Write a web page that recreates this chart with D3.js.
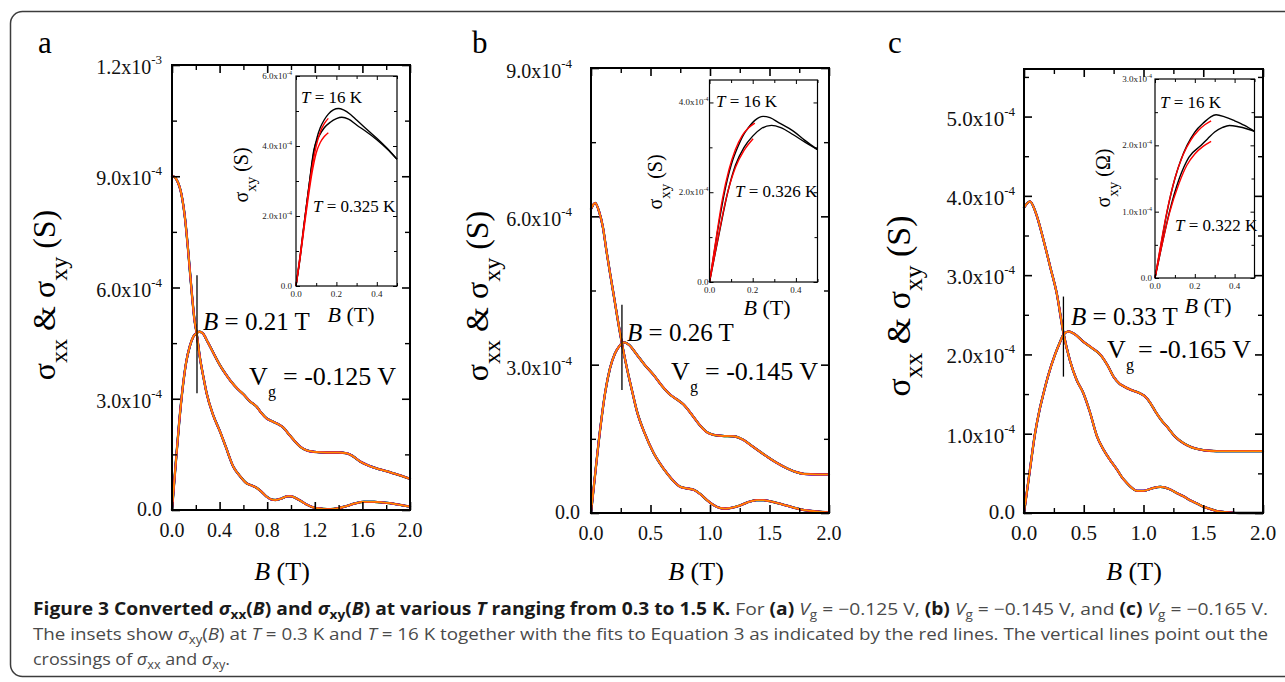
<!DOCTYPE html>
<html><head><meta charset="utf-8">
<script src="https://cdn.jsdelivr.net/npm/d3@7"></script>
<style>html,body{margin:0;padding:0;background:#fff;}svg{display:block;}</style>
</head><body>
<svg id="fig" width="1285" height="682"></svg>
<script>
// ===== DATA (conductivity in units of 1e-4 S, B in tesla) =====
// Panel a  (Vg = -0.125 V)
const sxxA = [[0,9.0],[0.02,8.98],[0.04,8.9],[0.08,8.5],[0.11,7.85],[0.137,6.95],[0.165,5.9],[0.19,5.1],[0.207,4.77],[0.235,4.1],[0.263,3.6],[0.291,3.15],[0.347,2.55],[0.403,2.12],[0.45,1.72],[0.515,1.17],[0.57,0.92],[0.627,0.72],[0.67,0.66],[0.71,0.6],[0.75,0.5],[0.795,0.36],[0.84,0.28],[0.87,0.27],[0.92,0.31],[0.97,0.37],[1.0,0.37],[1.04,0.32],[1.08,0.25],[1.13,0.15],[1.2,0.06],[1.27,0.03],[1.33,0.02],[1.4,0.05],[1.47,0.11],[1.54,0.18],[1.61,0.22],[1.7,0.22],[1.78,0.2],[1.86,0.17],[1.93,0.13],[2.0,0.09]];
const sxyA = [[0,0],[0.03,1.2],[0.06,2.35],[0.09,3.3],[0.12,4.0],[0.15,4.42],[0.18,4.68],[0.207,4.77],[0.23,4.81],[0.26,4.76],[0.3,4.53],[0.35,4.22],[0.4,3.92],[0.45,3.67],[0.5,3.45],[0.55,3.27],[0.6,3.12],[0.655,2.93],[0.71,2.79],[0.75,2.62],[0.795,2.47],[0.85,2.38],[0.9,2.3],[0.936,2.22],[0.98,2.05],[1.02,1.9],[1.076,1.71],[1.13,1.61],[1.19,1.57],[1.3,1.55],[1.4,1.55],[1.47,1.53],[1.52,1.45],[1.58,1.31],[1.65,1.2],[1.72,1.12],[1.8,1.05],[1.86,0.99],[1.93,0.92],[2.0,0.84]];
// Panel b  (Vg = -0.145 V)
const sxxB = [[0,6.15],[0.035,6.27],[0.07,6.08],[0.1,5.78],[0.13,5.3],[0.162,4.82],[0.19,4.42],[0.22,3.98],[0.26,3.43],[0.3,2.95],[0.35,2.42],[0.387,2.05],[0.45,1.62],[0.527,1.21],[0.58,1.0],[0.64,0.8],[0.7,0.63],[0.75,0.53],[0.8,0.5],[0.863,0.47],[0.92,0.38],[0.975,0.26],[1.03,0.16],[1.087,0.1],[1.13,0.09],[1.17,0.1],[1.25,0.15],[1.32,0.22],[1.39,0.26],[1.45,0.26],[1.5,0.24],[1.6,0.18],[1.7,0.11],[1.79,0.06],[1.9,0.03],[2.0,0.01]];
const sxyB = [[0,0],[0.04,0.9],[0.08,1.75],[0.12,2.45],[0.16,2.93],[0.2,3.22],[0.24,3.38],[0.26,3.43],[0.28,3.45],[0.32,3.4],[0.38,3.22],[0.45,3.0],[0.527,2.79],[0.6,2.56],[0.667,2.39],[0.72,2.3],[0.78,2.19],[0.85,1.98],[0.92,1.76],[0.97,1.64],[1.03,1.58],[1.1,1.56],[1.2,1.55],[1.28,1.48],[1.35,1.36],[1.42,1.24],[1.48,1.14],[1.55,1.03],[1.65,0.9],[1.72,0.83],[1.79,0.79],[1.9,0.78],[2.0,0.78]];
// Panel c  (Vg = -0.165 V)
const sxxC = [[0,3.85],[0.05,3.93],[0.1,3.78],[0.162,3.45],[0.22,3.1],[0.274,2.77],[0.33,2.27],[0.385,1.92],[0.44,1.68],[0.497,1.51],[0.55,1.28],[0.61,0.97],[0.665,0.8],[0.72,0.67],[0.777,0.55],[0.82,0.45],[0.86,0.38],[0.9,0.32],[0.944,0.28],[1.0,0.28],[1.07,0.31],[1.14,0.33],[1.22,0.3],[1.28,0.25],[1.335,0.21],[1.39,0.16],[1.447,0.12],[1.5,0.08],[1.56,0.05],[1.63,0.02],[1.7,0.01],[1.8,0],[2.0,0]];
const sxyC = [[0,0],[0.05,0.55],[0.092,1.0],[0.13,1.3],[0.162,1.5],[0.2,1.72],[0.26,2.0],[0.3,2.15],[0.33,2.25],[0.371,2.29],[0.42,2.26],[0.497,2.16],[0.57,2.08],[0.637,2.0],[0.7,1.86],[0.749,1.72],[0.8,1.63],[0.832,1.6],[0.9,1.55],[0.97,1.51],[1.02,1.46],[1.056,1.39],[1.1,1.28],[1.15,1.17],[1.196,1.09],[1.26,0.97],[1.335,0.88],[1.4,0.83],[1.475,0.8],[1.55,0.785],[1.61,0.78],[1.8,0.78],[2.0,0.78]];

// Insets: sigma_xy at T = 16 K (hot), low T (cold) and Eq. 3 fits
const insetHotA  = [[0,0],[0.02,0.84],[0.036,1.6],[0.053,2.36],[0.07,3.1],[0.086,3.75],[0.103,4.22],[0.12,4.52],[0.14,4.75],[0.16,4.91],[0.185,5.03],[0.21,5.07],[0.235,5.03],[0.27,4.9],[0.3,4.74],[0.35,4.48],[0.4,4.22],[0.45,3.94],[0.5,3.62]];
const insetColdA = [[0,0],[0.02,0.78],[0.045,1.98],[0.065,2.9],[0.089,3.9],[0.116,4.3],[0.14,4.52],[0.17,4.68],[0.2,4.78],[0.227,4.82],[0.26,4.77],[0.3,4.6],[0.35,4.4],[0.4,4.18],[0.45,3.92],[0.5,3.62]];
const insetFitHotA  = [[0,0],[0.02,0.86],[0.04,1.75],[0.06,2.62],[0.08,3.4],[0.1,4.0],[0.12,4.4],[0.14,4.64],[0.16,4.79]];
const insetFitColdA = [[0,0],[0.02,0.78],[0.04,1.65],[0.06,2.5],[0.08,3.25],[0.1,3.8],[0.12,4.1],[0.14,4.27],[0.16,4.38]];
const insetHotB  = [[0,0],[0.034,1.04],[0.07,2.01],[0.1,2.6],[0.132,3.02],[0.16,3.3],[0.179,3.43],[0.21,3.6],[0.248,3.69],[0.28,3.66],[0.32,3.55],[0.388,3.36],[0.44,3.16],[0.5,2.95]];
const insetColdB = [[0,0],[0.043,1.04],[0.085,2.01],[0.12,2.6],[0.16,3.0],[0.2,3.25],[0.24,3.42],[0.287,3.49],[0.33,3.44],[0.388,3.28],[0.44,3.12],[0.5,2.95]];
const insetFitHotB  = [[0,0],[0.03,0.95],[0.06,1.85],[0.09,2.5],[0.12,2.95],[0.15,3.25],[0.18,3.43],[0.21,3.54]];
const insetFitColdB = [[0,0],[0.04,1.0],[0.08,1.92],[0.12,2.55],[0.16,2.93],[0.202,3.19]];
const insetHotC  = [[0,0],[0.03,0.5],[0.06,0.99],[0.1,1.5],[0.13,1.78],[0.161,2.0],[0.2,2.2],[0.248,2.35],[0.28,2.43],[0.307,2.46],[0.35,2.43],[0.4,2.37],[0.45,2.3],[0.5,2.21]];
const insetColdC = [[0,0],[0.035,0.5],[0.072,0.99],[0.122,1.5],[0.17,1.82],[0.232,2.0],[0.265,2.1],[0.3,2.2],[0.34,2.27],[0.374,2.3],[0.42,2.28],[0.46,2.25],[0.5,2.21]];
const insetFitHotC  = [[0,0],[0.03,0.52],[0.06,1.0],[0.1,1.5],[0.14,1.85],[0.18,2.08],[0.22,2.23],[0.25,2.31],[0.282,2.37]];
const insetFitColdC = [[0,0],[0.035,0.5],[0.072,0.97],[0.12,1.42],[0.16,1.7],[0.2,1.87],[0.24,1.98],[0.282,2.06]];

// Crossing field and vertical marker extent (1e-4 S)
const crossB = [0.21, 0.26, 0.33];
const crossSpan = [[3.15, 6.33], [2.49, 4.21], [1.72, 2.73]];

// Tick values and labels
const xTicksA = [0,0.4,0.8,1.2,1.6,2.0];  const xLabelsA = ["0.0","0.4","0.8","1.2","1.6","2.0"];
const xMinorA = [0.2,0.6,1.0,1.4,1.8];
const xTicksBC = [0,0.5,1.0,1.5,2.0];     const xLabelsBC = ["0.0","0.5","1.0","1.5","2.0"];
const xMinorBC = [0.25,0.75,1.25,1.75];
const yTicksA = [0,3,6,9,12];  const yLabelsA = [["0.0",""],["3.0","-4"],["6.0","-4"],["9.0","-4"],["1.2","-3"]];
const yMinorA = [1.5,4.5,7.5,10.5];
const yTicksB = [0,3,6,9];     const yLabelsB = [["0.0",""],["3.0","-4"],["6.0","-4"],["9.0","-4"]];
const yMinorB = [1.5,4.5,7.5];
const yTicksC = [0,1,2,3,4,5]; const yLabelsC = [["0.0",""],["1.0","-4"],["2.0","-4"],["3.0","-4"],["4.0","-4"],["5.0","-4"]];
const yMinorC = [0.5,1.5,2.5,3.5,4.5,5.5];
const insetXTicks = [0,0.2,0.4]; const insetXLabels = ["0.0","0.2","0.4"]; const insetXMinor = [0.1,0.3,0.5];
const insetYTicksA = [0,2,4,6]; const insetYLabelsA = [["0.0",""],["2.0x10","-4"],["4.0x10","-4"],["6.0x10","-4"]]; const insetYMinorA = [1,3,5];
const insetYTicksB = [0,2,4];   const insetYLabelsB = [["0.0",""],["2.0x10","-4"],["4.0x10","-4"]]; const insetYMinorB = [1,3];
const insetYTicksC = [0,1,2,3]; const insetYLabelsC = [["0.0",""],["1.0x10","-4"],["2.0x10","-4"],["3.0x10","-4"]]; const insetYMinorC = [0.5,1.5,2.5];

// Temperature curves colours (bottom to top layer)
const tempColors = ["#000000","#00a000","#0000ff","#e000e0","#ff2000","#ff8c00"];
const tempWidths = [2.3,2.1,2.0,1.9,1.8,1.5];

// ===== DRAWING =====
const SERIF = "'Liberation Serif','Times New Roman',serif";
const SANS = "'Open Sans','Noto Sans',sans-serif";
const svg = d3.select("#fig");
svg.append("rect").attr("width",1285).attr("height",682).attr("fill","#fff");
svg.append("rect").attr("x",10.5).attr("y",11.5).attr("width",1300).attr("height",665)
  .attr("rx",12).attr("fill","none").attr("stroke","#3c3c3c").attr("stroke-width",1.5);

function tickAxis(g, scale, orient, pos, values, size, sw){
  const gen = {left:d3.axisLeft, right:d3.axisRight, top:d3.axisTop, bottom:d3.axisBottom}[orient];
  const a = g.append("g")
    .attr("transform", (orient==="left"||orient==="right") ? `translate(${pos},0)` : `translate(0,${pos})`)
    .call(gen(scale).tickValues(values).tickSize(-size).tickFormat(""));
  a.select(".domain").remove();
  a.selectAll("line").attr("stroke","#000").attr("stroke-width",sw);
}

function drawCurves(g, x, y, series){
  const line = d3.line().x(d=>x(d[0])).y(d=>y(d[1])).curve(d3.curveMonotoneX);
  const cg = g.append("g").attr("fill","none").attr("stroke-linejoin","round").attr("stroke-linecap","round");
  tempColors.forEach((c,i)=>{
    series.forEach(s=>{
      cg.append("path").attr("d",line(s)).attr("stroke",c).attr("stroke-width",tempWidths[i]);
    });
  });
}

function drawMain(P){
  const g = svg.append("g");
  const x = d3.scaleLinear().domain([0,2]).range([P.left,P.right]);
  const y = d3.scaleLinear().domain([0,P.yMax]).range([P.bottom,P.top]);
  drawCurves(g, x, y, [P.sxx, P.sxy]);
  g.append("rect").attr("x",P.left).attr("y",P.top).attr("width",P.right-P.left).attr("height",P.bottom-P.top)
    .attr("fill","none").attr("stroke","#000").attr("stroke-width",2);
  tickAxis(g,y,"left",P.left,P.yTicks,8,1.6);   tickAxis(g,y,"left",P.left,P.yMinor,5,1.4);
  tickAxis(g,y,"right",P.right,P.yTicks,8,1.6); tickAxis(g,y,"right",P.right,P.yMinor,5,1.4);
  tickAxis(g,x,"bottom",P.bottom,P.xTicks,8,1.6); tickAxis(g,x,"bottom",P.bottom,P.xMinor,5,1.4);
  tickAxis(g,x,"top",P.top,P.xTicks,8,1.6); tickAxis(g,x,"top",P.top,P.xMinor,5,1.4);
  P.yLabels.forEach((lab,i)=>{
    const v = P.yTicks[i];
    const t = g.append("text").attr("font-family",SERIF).attr("font-size",P.tickFont).attr("fill","#111")
      .attr("text-anchor","end")
      .attr("x", P.left - (lab[1] ? P.yGap : P.zeroGap))
      .attr("y", y(v) + (lab[1] ? P.expOff : 6));
    t.append("tspan").text(lab[1] ? lab[0]+"x10" : lab[0]);
    if(lab[1]) t.append("tspan").attr("dy",-10).attr("font-size",13).text(lab[1]);
  });
  P.xLabels.forEach((lab,i)=>{
    g.append("text").attr("font-family",SERIF).attr("font-size",P.tickFont).attr("fill","#111")
      .attr("text-anchor","middle").attr("x",x(P.xTicks[i])).attr("y",P.bottom+27).text(lab);
  });
  const xt = g.append("text").attr("font-family",SERIF).attr("font-size",26).attr("text-anchor","middle")
    .attr("x",P.xTitleX).attr("y",580);
  xt.append("tspan").attr("font-style","italic").text("B");
  xt.append("tspan").text(" (T)");
  const yt = g.append("text").attr("font-family",SERIF).attr("font-size",P.yTitleSize).attr("text-anchor","middle")
    .attr("transform",`translate(${P.yTitleX},${P.yTitleY}) rotate(-90)`);
  yt.append("tspan").text("σ");
  yt.append("tspan").attr("font-size",P.yTitleSize*0.75).attr("dy",12).text("xx");
  yt.append("tspan").attr("dy",-12).text(" & σ");
  yt.append("tspan").attr("font-size",P.yTitleSize*0.75).attr("dy",12).text("xy");
  yt.append("tspan").attr("dy",-12).text(" (S)");
  g.append("text").attr("font-family",SERIF).attr("font-size",31).attr("x",P.letterX).attr("y",53).text(P.letter);
  g.append("line").attr("x1",x(P.cross)).attr("x2",x(P.cross)).attr("y1",y(P.span[0])).attr("y2",y(P.span[1]))
    .attr("stroke","#000").attr("stroke-width",1.3);
  const bt = g.append("text").attr("font-family",SERIF).attr("font-size",25).attr("x",P.bLabel[0]).attr("y",P.bLabel[1]);
  bt.append("tspan").attr("font-style","italic").text("B");
  bt.append("tspan").text(" = " + P.cross.toFixed(2) + " T");
  g.append("text").attr("font-family",SERIF).attr("font-size",26).attr("x",P.vLabel[0]).attr("y",P.vLabel[1]).text("V");
  g.append("text").attr("font-family",SERIF).attr("font-size",16).attr("x",P.vLabel[0]+19).attr("y",P.vLabel[1]+12).text("g");
  g.append("text").attr("font-family",SERIF).attr("font-size",26).attr("x",P.vLabel[2]).attr("y",P.vLabel[1]).text(P.vText);
}

function drawInset(I){
  const g = svg.append("g");
  const x = d3.scaleLinear().domain([0,0.5]).range([I.left,I.right]);
  const y = d3.scaleLinear().domain([0,I.yMax]).range([I.bottom,I.top]);
  g.append("rect").attr("x",I.left).attr("y",I.top).attr("width",I.right-I.left).attr("height",I.bottom-I.top).attr("fill","#fff");
  const line = d3.line().x(d=>x(d[0])).y(d=>y(d[1])).curve(d3.curveMonotoneX);
  [I.hot,I.cold].forEach(s=>g.append("path").attr("d",line(s)).attr("fill","none").attr("stroke","#000").attr("stroke-width",1.4));
  [I.fitHot,I.fitCold].forEach(s=>g.append("path").attr("d",line(s)).attr("fill","none").attr("stroke","#ff0000").attr("stroke-width",1.4));
  g.append("rect").attr("x",I.left).attr("y",I.top).attr("width",I.right-I.left).attr("height",I.bottom-I.top)
    .attr("fill","none").attr("stroke","#000").attr("stroke-width",1.2);
  tickAxis(g,y,"left",I.left,I.yTicks,4,1); tickAxis(g,y,"left",I.left,I.yMinor,3,1);
  tickAxis(g,y,"right",I.right,I.yTicks,4,1); tickAxis(g,y,"right",I.right,I.yMinor,3,1);
  tickAxis(g,x,"bottom",I.bottom,insetXTicks,4,1); tickAxis(g,x,"bottom",I.bottom,insetXMinor,3,1);
  tickAxis(g,x,"top",I.top,insetXTicks,4,1); tickAxis(g,x,"top",I.top,insetXMinor,3,1);
  I.yLabels.forEach((lab,i)=>{
    const t = g.append("text").attr("font-family",SERIF).attr("font-size",9).attr("fill","#222")
      .attr("text-anchor","end").attr("x",I.left-I.yGap).attr("y",y(I.yTicks[i])+3);
    t.append("tspan").text(lab[0]);
    if(lab[1]) t.append("tspan").attr("dy",-4).attr("font-size",6).text(lab[1]);
  });
  insetXLabels.forEach((lab,i)=>{
    g.append("text").attr("font-family",SERIF).attr("font-size",9).attr("fill","#222").attr("text-anchor","middle")
      .attr("x",x(insetXTicks[i])).attr("y",I.bottom+11).text(lab);
  });
  const xt = g.append("text").attr("font-family",SERIF).attr("font-size",22).attr("text-anchor","middle")
    .attr("x",I.xTitle[0]).attr("y",I.xTitle[1]);
  xt.append("tspan").attr("font-style","italic").text("B");
  xt.append("tspan").text(" (T)");
  const yt = g.append("text").attr("font-family",SERIF).attr("font-size",20).attr("text-anchor","middle")
    .attr("transform",`translate(${I.yTitle[0]},${I.yTitle[1]}) rotate(-90)`);
  yt.append("tspan").text("σ");
  yt.append("tspan").attr("font-size",15).attr("dy",8).text("xy");
  yt.append("tspan").attr("dy",-8).text(" (" + I.unit + ")");
  I.tLabels.forEach(tl=>{
    const t = g.append("text").attr("font-family",SERIF).attr("font-size",17).attr("x",tl[0]).attr("y",tl[1]);
    t.append("tspan").attr("font-style","italic").text("T");
    t.append("tspan").text(" = " + tl[2] + " K");
  });
}

drawMain({left:172,right:410,top:65,bottom:510,yMax:12,sxx:sxxA,sxy:sxyA,
  yTicks:yTicksA,yLabels:yLabelsA,yMinor:yMinorA,xTicks:xTicksA,xLabels:xLabelsA,xMinor:xMinorA,
  tickFont:20,yGap:10,zeroGap:10,expOff:9,xTitleX:282,yTitleX:55,yTitleY:295,yTitleSize:32,
  letter:"a",letterX:38,cross:crossB[0],span:crossSpan[0],bLabel:[203,330],vLabel:[249,385,283],vText:"= -0.125 V"});
drawMain({left:591,right:829,top:68,bottom:513,yMax:9,sxx:sxxB,sxy:sxyB,
  yTicks:yTicksB,yLabels:yLabelsB,yMinor:yMinorB,xTicks:xTicksBC,xLabels:xLabelsBC,xMinor:xMinorBC,
  tickFont:20,yGap:19,zeroGap:11,expOff:10,xTitleX:696,yTitleX:488,yTitleY:296,yTitleSize:32,
  letter:"b",letterX:472,cross:crossB[1],span:crossSpan[1],bLabel:[627,341],vLabel:[671,380,705],vText:"= -0.145 V"});
drawMain({left:1024,right:1263,top:69,bottom:513,yMax:5.6,sxx:sxxC,sxy:sxyC,
  yTicks:yTicksC,yLabels:yLabelsC,yMinor:yMinorC,xTicks:xTicksBC,xLabels:xLabelsBC,xMinor:xMinorBC,
  tickFont:21,yGap:9,zeroGap:9,expOff:9,xTitleX:1134,yTitleX:910,yTitleY:306,yTitleSize:34,
  letter:"c",letterX:888,cross:crossB[2],span:crossSpan[2],bLabel:[1071,325],vLabel:[1107,358,1138],vText:"= -0.165 V"});

drawInset({left:296,right:397,top:76,bottom:286,yMax:6,hot:insetHotA,cold:insetColdA,fitHot:insetFitHotA,fitCold:insetFitColdA,
  yTicks:insetYTicksA,yLabels:insetYLabelsA,yMinor:insetYMinorA,yGap:4,xTitle:[351,322],yTitle:[248,175],unit:"S",
  tLabels:[[301,103,"16"],[313,212,"0.325"]]});
drawInset({left:709.5,right:817.5,top:80,bottom:282,yMax:4.5,hot:insetHotB,cold:insetColdB,fitHot:insetFitHotB,fitCold:insetFitColdB,
  yTicks:insetYTicksB,yLabels:insetYLabelsB,yMinor:insetYMinorB,yGap:1,xTitle:[767,315],yTitle:[662,182],unit:"S",
  tLabels:[[716,107,"16"],[735,197,"0.326"]]});
drawInset({left:1155,right:1254.5,top:79,bottom:278,yMax:3,hot:insetHotC,cold:insetColdC,fitHot:insetFitHotC,fitCold:insetFitColdC,
  yTicks:insetYTicksC,yLabels:insetYLabelsC,yMinor:insetYMinorC,yGap:3,xTitle:[1208,313],yTitle:[1110,178],unit:"Ω",
  tLabels:[[1160,108,"16"],[1175,231,"0.322"]]});

// ===== CAPTION =====
const DARK = "#1a1a1a", GREY = "#4a4a4a";
function capLine(y, width, parts){
  const t = svg.append("text").attr("font-family",SANS).attr("font-size",17).attr("x",33).attr("y",y)
    .attr("textLength",width).attr("lengthAdjust","spacingAndGlyphs");
  let shift = 0;
  parts.forEach(p=>{
    const s = t.append("tspan").text(p.t).attr("fill", p.b ? DARK : GREY).attr("font-weight", p.b ? 700 : 400);
    if(p.i) s.attr("font-style","italic");
    const want = p.sub ? 4 : 0;
    if(want!==shift){ s.attr("dy", want-shift); shift = want; }
    if(p.sub) s.attr("font-size",12);
  });
}
capLine(615, 1235, [
  {t:"Figure 3 Converted ",b:1},{t:"σ",b:1,i:1},{t:"xx",b:1,sub:1},{t:"(",b:1},{t:"B",b:1,i:1},{t:") and ",b:1},
  {t:"σ",b:1,i:1},{t:"xy",b:1,sub:1},{t:"(",b:1},{t:"B",b:1,i:1},{t:") at various ",b:1},{t:"T",b:1,i:1},
  {t:" ranging from 0.3 to 1.5 K.",b:1},{t:" For "},{t:"(a)",b:1},{t:" "},{t:"V",i:1},{t:"g",sub:1},{t:" = −0.125 V, "},
  {t:"(b)",b:1},{t:" "},{t:"V",i:1},{t:"g",sub:1},{t:" = −0.145 V, and "},{t:"(c)",b:1},{t:" "},{t:"V",i:1},{t:"g",sub:1},
  {t:" = −0.165 V."}]);
capLine(640, 1235, [
  {t:"The insets show "},{t:"σ",i:1},{t:"xy",sub:1},{t:"("},{t:"B",i:1},{t:") at "},{t:"T",i:1},{t:" = 0.3 K and "},
  {t:"T",i:1},{t:" = 16 K together with the fits to Equation 3 as indicated by the red lines. The vertical lines point out the"}]);
capLine(665, 197, [
  {t:"crossings of "},{t:"σ",i:1},{t:"xx",sub:1},{t:" and "},{t:"σ",i:1},{t:"xy",sub:1},{t:"."}]);
</script>
</body></html>
